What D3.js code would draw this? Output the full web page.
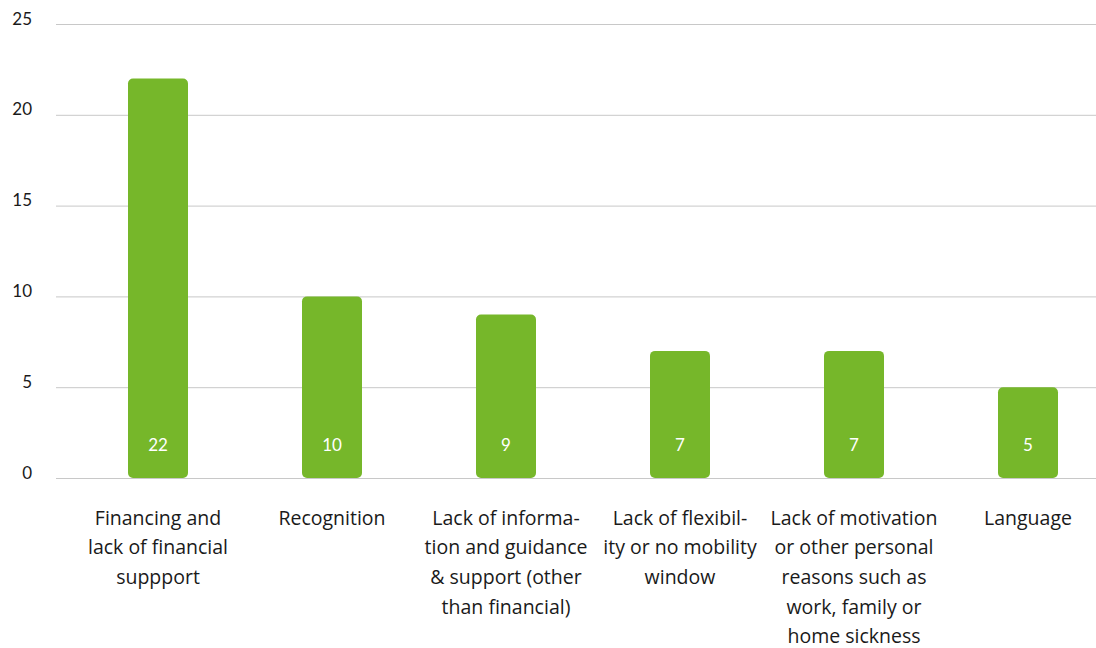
<!DOCTYPE html>
<html>
<head>
<meta charset="utf-8">
<script src="https://cdn.jsdelivr.net/npm/d3@7"></script>
<style>
  html, body { margin: 0; padding: 0; background: #fff; }
  svg { display: block; }
  text { font-family: "Open Sans", Lato, sans-serif; }
</style>
</head>
<body>
<svg id="chart" width="1096" height="648"></svg>
<script>
// Obstacles to mobility: number of mentions per category
const categories = [
  "Financing and lack of financial suppport",
  "Recognition",
  "Lack of information and guidance & support (other than financial)",
  "Lack of flexibility or no mobility window",
  "Lack of motivation or other personal reasons such as work, family or home sickness",
  "Language"
];
const categoryLines = [
  ["Financing and", "lack of financial", "suppport"],
  ["Recognition"],
  ["Lack of informa-", "tion and guidance", "& support (other", "than financial)"],
  ["Lack of flexibil-", "ity or no mobility", "window"],
  ["Lack of motivation", "or other personal", "reasons such as", "work, family or", "home sickness"],
  ["Language"]
];
const values = [22, 10, 9, 7, 7, 5];
const yTicks = [0, 5, 10, 15, 20, 25];

const svg = d3.select("#chart");
const W = 1096;

const x = d3.scaleBand()
  .domain(categories)
  .range([71, 1115])
  .paddingInner(114 / 174)
  .paddingOuter(57 / 174);

const y = d3.scaleLinear().domain([0, 25]).range([478, 24]);

// Horizontal gridlines with tick labels
const yAxis = d3.axisLeft(y).tickValues(yTicks).tickSize(-(W - 56)).tickPadding(24);
const gy = svg.append("g").attr("transform", "translate(56,0)").call(yAxis);
gy.select(".domain").remove();
gy.selectAll(".tick line").attr("stroke", "#c8c8c8").attr("stroke-width", 1);
gy.selectAll(".tick text")
  .attr("fill", "#1a1a1a")
  .style("font-size", "17px")
  .style("font-family", "Lato, sans-serif")
  .attr("dy", "0")
  .attr("y", 0);

// Bars with rounded corners
const color = "#76b72a";
svg.append("g").selectAll("rect")
  .data(values)
  .join("rect")
  .attr("x", (d, i) => x(categories[i]))
  .attr("y", d => y(d))
  .attr("width", x.bandwidth())
  .attr("height", d => y(0) - y(d))
  .attr("rx", 5).attr("ry", 5)
  .attr("fill", color);

// Value labels inside the bars
svg.append("g").selectAll("text")
  .data(values)
  .join("text")
  .attr("x", (d, i) => x(categories[i]) + x.bandwidth() / 2)
  .attr("y", 451)
  .attr("text-anchor", "middle")
  .attr("fill", "#fff")
  .style("font-size", "17px")
  .style("font-family", "Lato, sans-serif")
  .text(d => d);

// Category labels under the axis
const labels = svg.append("g").selectAll("text")
  .data(categoryLines)
  .join("text")
  .attr("text-anchor", "middle")
  .attr("fill", "#1a1a1a")
  .style("font-size", "19.5px")
  .attr("x", (d, i) => x(categories[i]) + x.bandwidth() / 2)
  .attr("y", 524.5);
labels.selectAll("tspan")
  .data(d => d)
  .join("tspan")
  .attr("x", function() { return this.parentNode.getAttribute("x"); })
  .attr("dy", (d, j) => j === 0 ? 0 : 29.7)
  .text(d => d);
</script>
</body>
</html>
